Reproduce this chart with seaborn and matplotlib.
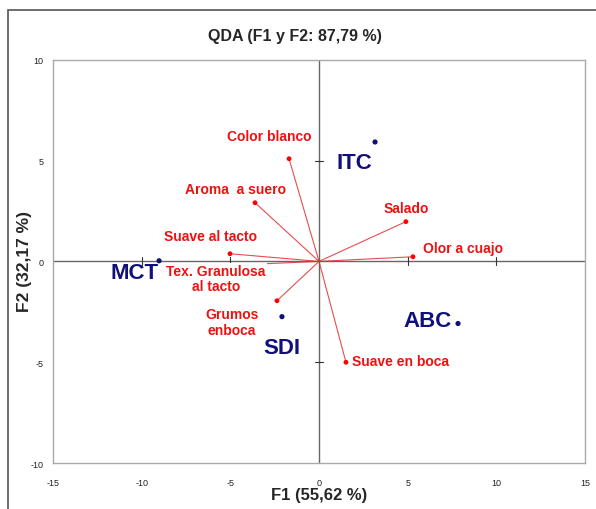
import numpy as np
import pandas as pd
import seaborn as sns
import matplotlib.pyplot as plt
from matplotlib.patches import Rectangle

# observations (blue)
obs_names = ['ITC', 'MCT', 'SDI', 'ABC']
obs_x = [3.16, -9.02, -2.09, 7.84]
obs_y = [5.92, 0.03, -2.74, -3.08]

# variables (red vectors)
var_names = ['Color blanco', 'Aroma  a suero', 'Suave al tacto', 'Tex. Granulosa\nal tacto',
             'Grumos\nenboca', 'Salado', 'Olor a cuajo', 'Suave en boca']
var_x = [-1.69, -3.61, -5.02, -6.6, -2.37, 4.90, 5.30, 1.52]
var_y = [5.09, 2.91, 0.38, -0.25, -1.95, 1.97, 0.23, -5.00]

sns.set_style('white')
plt.rcParams['font.family'] = ['Liberation Sans', 'DejaVu Sans']
plt.rcParams['axes.unicode_minus'] = False

fig = plt.figure(figsize=(5.96, 5.10), dpi=100)
ax = fig.add_axes([0.089, 0.090, 0.8925, 0.791])

# figure frame
fig.patches.append(Rectangle((8/596, -0.05), 1.0, 1 - 11/510 + 0.05, transform=fig.transFigure,
                             fill=False, edgecolor='#555555', lw=1.2, zorder=0))

ax.axhline(0, color='#666666', lw=1.0, zorder=1)
ax.axvline(0, color='#666666', lw=1.0, zorder=1)
# tick marks on the zero axes
for t in [-10, -5, 5, 10]:
    ax.plot([t, t], [-0.2, 0.2], color='#333333', lw=0.8, zorder=1)
for t in [-5, 5]:
    ax.plot([-0.2, 0.2], [t, t], color='#333333', lw=0.8, zorder=1)

for x, y in zip(var_x, var_y):
    ax.plot([0, x], [0, y], color='#e03030', lw=0.8, alpha=0.85, zorder=2)

var_df = pd.DataFrame({'x': var_x, 'y': var_y})
obs_df = pd.DataFrame({'x': obs_x, 'y': obs_y})
sns.scatterplot(data=var_df, x='x', y='y', color='red', s=12, edgecolor='none', ax=ax, zorder=3)
sns.scatterplot(data=obs_df, x='x', y='y', color='#10107a', s=14, edgecolor='none', ax=ax, zorder=3)

# variable labels
var_lab = [(-2.8, 6.2), (-4.7, 3.6), (-6.1, 1.25), (-5.8, -0.85), (-4.9, -3.0),
           (4.9, 2.65), (8.1, 0.65), (4.6, -4.95)]
for (lx, ly), name in zip(var_lab, var_names):
    ax.text(lx, ly, name, color='#ee1111', fontsize=10, fontweight='bold', ha='center', va='center',
            linespacing=1.15, zorder=4,
            bbox=dict(facecolor='white', edgecolor='none', pad=0.5) if 'Tex' in name else None)

obs_lab = [(2.0, 4.9), (-10.4, -0.55), (-2.1, -4.25), (6.1, -2.95)]
for (lx, ly), name in zip(obs_lab, obs_names):
    ax.text(lx, ly, name, color='#10107a', fontsize=16, fontweight='bold', ha='center', va='center', zorder=4)

ax.set_xlim(-15, 15)
ax.set_ylim(-10, 10)
ax.set_xticks([-15, -10, -5, 0, 5, 10, 15])
ax.set_yticks([-10, -5, 0, 5, 10])
ax.tick_params(labelsize=6.5, length=0, pad=11, labelcolor='#222222')
ax.tick_params(axis='y', pad=7)
for s in ax.spines.values():
    s.set_color('#aaaaaa')
    s.set_linewidth(1.0)
ax.set_xlabel('F1 (55,62 %)', fontsize=12, fontweight='bold', labelpad=0)
ax.set_ylabel('')
fig.text(25/596, 1 - 262/510, 'F2 (32,17 %)', fontsize=12.5, fontweight='bold',
         rotation=90, ha='center', va='center')
fig.text(295/596, 1 - 37/510, 'QDA (F1 y F2: 87,79 %)', fontsize=11.5, fontweight='bold',
         ha='center', va='center')

fig.savefig('out.png', dpi=100)
